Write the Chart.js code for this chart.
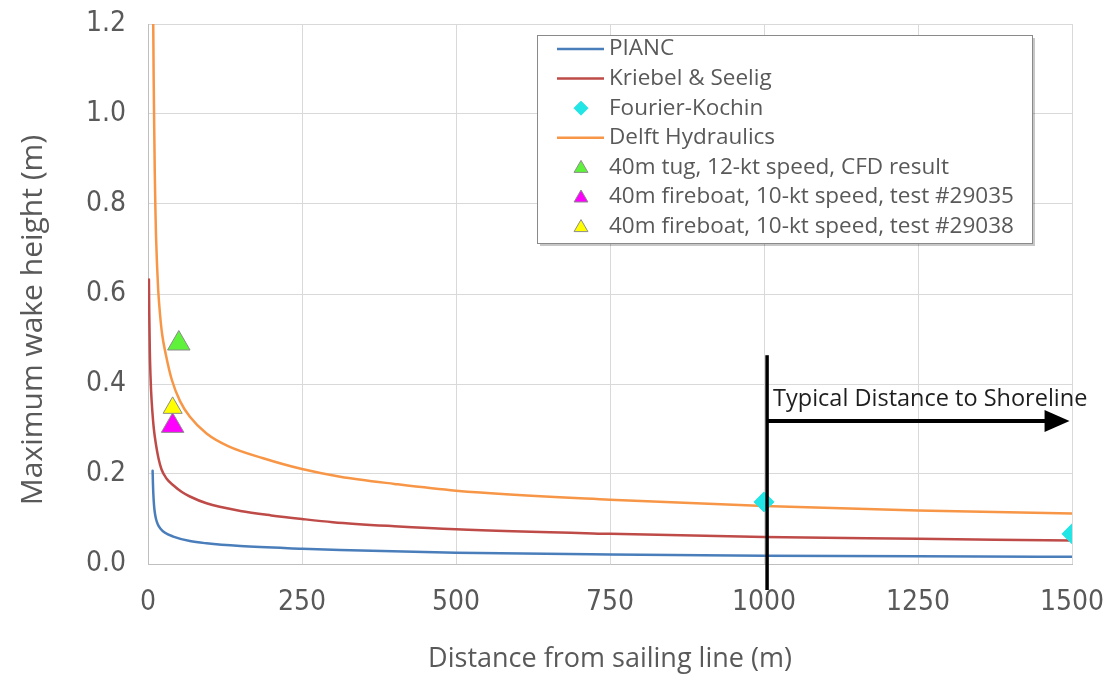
<!DOCTYPE html>
<html>
<head>
<meta charset="utf-8">
<script src="https://cdn.jsdelivr.net/npm/chart.js@4.4.1/dist/chart.umd.min.js"></script>
<style>
  html, body { margin: 0; padding: 0; background: #ffffff; }
  #wrap { width: 1107px; height: 679px; position: relative; }
</style>
</head>
<body>
<div id="wrap"><canvas id="c" width="1107" height="679"></canvas></div>
<script>
// ---------- data ----------
const xTickValues = [0, 250, 500, 750, 1000, 1250, 1500];
const yTickValues = [0.0, 0.2, 0.4, 0.6, 0.8, 1.0, 1.2];

const piancDist   = [7.5, 8, 8.7, 9.7, 11, 13, 16, 20, 27, 41, 68, 95, 150, 250, 312, 500, 750, 1000, 1250, 1500];
const piancHeight = [0.207, 0.18, 0.155, 0.132, 0.115, 0.10, 0.088, 0.079, 0.070, 0.061, 0.051, 0.046, 0.040, 0.034, 0.031, 0.025, 0.021, 0.0185, 0.017, 0.016];

const kriebelDist   = [1.5, 2, 3, 4, 5, 7, 9.5, 13, 17, 22, 30, 41, 55, 68, 95, 150, 200, 250, 300, 400, 500, 750, 1000, 1250, 1500];
const kriebelHeight = [0.632, 0.56, 0.47, 0.42, 0.385, 0.34, 0.30, 0.265, 0.235, 0.21, 0.19, 0.175, 0.16, 0.15, 0.135, 0.118, 0.108, 0.100, 0.093, 0.084, 0.077, 0.067, 0.060, 0.056, 0.052];

const fourierDist   = [1000, 1500];
const fourierHeight = [0.138, 0.067];

const delftDist   = [8.5, 9.2, 10, 11, 12, 13, 14.5, 16.5, 19.5, 23, 29, 38.5, 52, 68, 95, 130, 187, 250, 312, 400, 500, 750, 1000, 1250, 1500];
const delftHeight = [1.2, 1.08, 0.98, 0.87, 0.79, 0.73, 0.67, 0.61, 0.555, 0.51, 0.465, 0.41, 0.362, 0.327, 0.29, 0.262, 0.235, 0.211, 0.194, 0.178, 0.163, 0.143, 0.129, 0.119, 0.112];

const tugDist = [50],  tugHeight = [0.49];
const fb29035Dist = [40], fb29035Height = [0.307];
const fb29038Dist = [40], fb29038Height = [0.347];

const seriesLabels = [
  'PIANC',
  'Kriebel & Seelig',
  'Fourier-Kochin',
  'Delft Hydraulics',
  '40m tug, 12-kt speed, CFD result',
  '40m fireboat, 10-kt speed, test #29035',
  '40m fireboat, 10-kt speed, test #29038'
];
const xTitle = 'Distance from sailing line (m)';
const yTitle = 'Maximum wake height (m)';
const annotationText = 'Typical Distance to Shoreline';

// ---------- helpers ----------
const pts = (xs, ys) => xs.map((x, i) => ({ x: x, y: ys[i] }));
const FONT = '"Open Sans", "Noto Sans", sans-serif';
const TICKFONT = '"Liberation Sans Narrow", "DejaVu Sans Condensed", "Open Sans", sans-serif';
const GRAY = '#595959';

function lineDS(label, xs, ys, color, order) {
  return {
    label, data: pts(xs, ys), borderColor: color, backgroundColor: color,
    borderWidth: 2.5, pointRadius: 0, pointHoverRadius: 0, showLine: true,
    cubicInterpolationMode: 'monotone', order, legendKind: 'line'
  };
}
function markerDS(label, xs, ys, color, style, r, order) {
  return {
    label, data: pts(xs, ys), showLine: false, pointStyle: style,
    pointRadius: r, pointHoverRadius: r, backgroundColor: color,
    borderColor: '#8c8c8c', borderWidth: 1, order, legendKind: 'marker',
    legendRadius: style === 'rectRot' ? 7 : 8
  };
}

const datasets = [
  lineDS(seriesLabels[0], piancDist, piancHeight, '#4a7ebb', 7),
  lineDS(seriesLabels[1], kriebelDist, kriebelHeight, '#be4b48', 6),
  Object.assign(markerDS(seriesLabels[2], fourierDist, fourierHeight, '#22e5e5', 'rectRot', 10, 4), { borderColor: '#22e5e5' }),
  lineDS(seriesLabels[3], delftDist, delftHeight, '#f79646', 5),
  markerDS(seriesLabels[4], tugDist, tugHeight, '#5ef23a', 'triangle', 13, 3),
  markerDS(seriesLabels[5], fb29035Dist, fb29035Height, '#ff00ff', 'triangle', 13, 2),
  markerDS(seriesLabels[6], fb29038Dist, fb29038Height, '#ffff00', 'triangle', 11, 1)
];

// ---------- custom drawing: annotation arrow, legend, y title ----------
const overlay = {
  id: 'overlay',
  afterDatasetsDraw(chart) {
    const { ctx, scales: { x, y }, chartArea } = chart;
    ctx.save();
    // vertical line
    const vx = x.getPixelForValue(1005);
    ctx.strokeStyle = '#000';
    ctx.lineWidth = 3.5;
    ctx.beginPath();
    ctx.moveTo(vx, y.getPixelForValue(0.464));
    ctx.lineTo(vx, chartArea.bottom + 26);
    ctx.stroke();
    // horizontal arrow
    const ay = y.getPixelForValue(0.318);
    const tip = x.getPixelForValue(1496);
    ctx.lineWidth = 4;
    ctx.beginPath();
    ctx.moveTo(vx, ay);
    ctx.lineTo(tip - 22, ay);
    ctx.stroke();
    ctx.fillStyle = '#000';
    ctx.beginPath();
    ctx.moveTo(tip, ay);
    ctx.lineTo(tip - 25, ay - 11);
    ctx.lineTo(tip - 25, ay + 11);
    ctx.closePath();
    ctx.fill();
    // text
    ctx.font = '23.5px ' + FONT;
    ctx.fillStyle = '#1e1e1e';
    ctx.textAlign = 'left';
    ctx.textBaseline = 'middle';
    ctx.fillText(annotationText, vx + 6, ay - 22);
    ctx.restore();
  },
  afterDraw(chart) {
    const { ctx } = chart;
    ctx.save();
    // y-axis title
    ctx.translate(33, 320);
    ctx.rotate(-Math.PI / 2);
    ctx.font = '30px ' + FONT;
    ctx.fillStyle = GRAY;
    ctx.textAlign = 'center';
    ctx.textBaseline = 'middle';
    ctx.fillText(yTitle, 0, 0);
    ctx.restore();

    // legend box
    const bx = 537, by = 35, bw = 495, bh = 208;
    ctx.save();
    ctx.fillStyle = 'rgba(0,0,0,0.22)';
    ctx.fillRect(bx + 3, by + 3, bw, bh);
    ctx.fillStyle = '#ffffff';
    ctx.fillRect(bx, by, bw, bh);
    ctx.strokeStyle = '#8a8a8a';
    ctx.lineWidth = 1;
    ctx.strokeRect(bx + 0.5, by + 0.5, bw, bh);
    ctx.font = '22.5px ' + FONT;
    ctx.textBaseline = 'middle';
    ctx.textAlign = 'left';
    chart.data.datasets.forEach((ds, i) => {
      const cy = 49 + i * 29.6;
      if (ds.legendKind === 'line') {
        ctx.strokeStyle = ds.borderColor;
        ctx.lineWidth = 2.5;
        ctx.beginPath();
        ctx.moveTo(557, cy);
        ctx.lineTo(604, cy);
        ctx.stroke();
      } else {
        ctx.fillStyle = ds.backgroundColor;
        ctx.strokeStyle = ds.borderColor;
        ctx.lineWidth = 1;
        ctx.beginPath();
        const r = ds.legendRadius;
        if (ds.pointStyle === 'rectRot') {
          ctx.moveTo(581, cy - r); ctx.lineTo(581 + r, cy); ctx.lineTo(581, cy + r); ctx.lineTo(581 - r, cy);
        } else {
          const c = cy + 1;
          ctx.moveTo(581, c - r);
          ctx.lineTo(581 + r * Math.sin(2 * Math.PI / 3), c - r * Math.cos(2 * Math.PI / 3));
          ctx.lineTo(581 - r * Math.sin(2 * Math.PI / 3), c - r * Math.cos(2 * Math.PI / 3));
        }
        ctx.closePath();
        ctx.fill();
        ctx.stroke();
      }
      ctx.fillStyle = GRAY;
      ctx.fillText(ds.label, 609, cy);
    });
    ctx.restore();
  }
};

new Chart(document.getElementById('c'), {
  type: 'line',
  data: { datasets },
  options: {
    responsive: false,
    animation: false,
    devicePixelRatio: 1,
    layout: { padding: { top: 24, right: 35, left: 0, bottom: 0 } },
    plugins: { legend: { display: false }, tooltip: { enabled: false } },
    elements: { line: { borderCapStyle: 'round' } },
    scales: {
      x: {
        type: 'linear', min: 0, max: 1500,
        afterBuildTicks: s => { s.ticks = xTickValues.map(v => ({ value: v })); },
        afterFit: s => { s.height = 115; s.paddingLeft = 0; s.paddingRight = 0; },
        ticks: { color: GRAY, font: { family: TICKFONT, size: 28 }, padding: 22, callback: v => String(v) },
        grid: { color: '#d9d9d9', lineWidth: 1, drawTicks: false },
        border: { color: '#bfbfbf', width: 1 },
        title: { display: true, text: xTitle, color: GRAY, font: { family: FONT, size: 27 }, padding: { top: 0, bottom: 3 } }
      },
      y: {
        type: 'linear', min: 0, max: 1.2,
        afterBuildTicks: s => { s.ticks = yTickValues.map(v => ({ value: v })); },
        afterFit: s => { s.width = 148; s.paddingTop = 0; s.paddingBottom = 0; },
        ticks: { color: GRAY, font: { family: TICKFONT, size: 28 }, padding: 22, callback: v => Number(v).toFixed(1) },
        grid: { color: '#d9d9d9', lineWidth: 1, drawTicks: false },
        border: { color: '#bfbfbf', width: 1 }
      }
    }
  },
  plugins: [overlay]
});
</script>
</body>
</html>
